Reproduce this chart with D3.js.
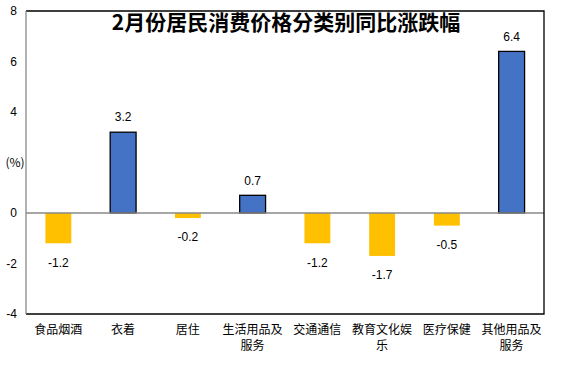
<!DOCTYPE html>
<html><head><meta charset="utf-8">
<script src="https://cdn.jsdelivr.net/npm/d3@7"></script>
<style>body{margin:0;background:#fff}svg{display:block}</style>
</head><body>
<svg id="c" width="574" height="374"></svg>
<script>
const title = "2月份居民消费价格分类别同比涨跌幅";
const categories = ["食品烟酒","衣着","居住","生活用品及服务","交通通信","教育文化娱乐","医疗保健","其他用品及服务"];
const categoryLines = [["食品烟酒"],["衣着"],["居住"],["生活用品及","服务"],["交通通信"],["教育文化娱","乐"],["医疗保健"],["其他用品及","服务"]];
const values = [-1.2, 3.2, -0.2, 0.7, -1.2, -1.7, -0.5, 6.4];
const valueLabels = ["-1.2","3.2","-0.2","0.7","-1.2","-1.7","-0.5","6.4"];
const yTicks = [-4,-2,0,2,4,6,8];
const yTickLabels = ["-4","-2","0","","4","6","8"];
const unitLabel = "(%)";

const svg = d3.select("#c");
const L = 26, R = 544, T = 11, B = 314;
const x = d3.scaleBand().domain(categories).range([L, R]).paddingInner(0.6).paddingOuter(0.3);
const y = d3.scaleLinear().domain([-4, 8]).range([B, T]);

const cjk = "'Noto Sans CJK SC', sans-serif";
const lat = "'Liberation Sans', Arial, sans-serif";

// bars
svg.selectAll("rect.bar").data(values).join("rect")
  .attr("x", (d,i) => x(categories[i]))
  .attr("width", x.bandwidth())
  .attr("y", d => d >= 0 ? y(d) : y(0))
  .attr("height", d => Math.abs(y(d) - y(0)))
  .attr("fill", d => d >= 0 ? "#4472C4" : "#FFC000")
  .attr("stroke", d => d >= 0 ? "#000" : "none")
  .attr("stroke-width", 1.3);

// zero line
svg.append("line").attr("x1", L).attr("x2", R).attr("y1", y(0)).attr("y2", y(0))
  .attr("stroke", "#888").attr("stroke-width", 1.3);

// frame
svg.append("path").attr("d", `M${L},${T}H${R}V${B}H${L}`).attr("fill","none").attr("stroke","#000").attr("stroke-width",1.3);
svg.append("line").attr("x1", L).attr("x2", L).attr("y1", T).attr("y2", B).attr("stroke","#888").attr("stroke-width",1.3);

// y tick labels
svg.selectAll("text.yt").data(yTicks).join("text")
  .attr("x", 17).attr("y", d => y(d)).attr("dy", "0.35em")
  .attr("text-anchor", "end").attr("font-family", lat).attr("font-size", 12)
  .text((d,i) => yTickLabels[i]);
svg.append("text").attr("x", 15).attr("y", y(2)).attr("dy","0.35em")
  .attr("text-anchor","middle").attr("font-family", cjk).attr("font-size", 12).text(unitLabel);

// value labels
svg.selectAll("text.vl").data(values).join("text")
  .attr("x", (d,i) => x(categories[i]) + x.bandwidth()/2)
  .attr("y", d => d >= 0 ? y(d) - 15 : y(d) + 19)
  .attr("dy", "0.35em").attr("text-anchor", "middle")
  .attr("font-family", lat).attr("font-size", 12)
  .text((d,i) => valueLabels[i]);

// category labels
categoryLines.forEach((lines, i) => {
  const t = svg.append("text").attr("text-anchor","middle").attr("font-family", cjk).attr("font-size", 12)
    .attr("x", x(categories[i]) + x.bandwidth()/2);
  lines.forEach((ln, j) => t.append("tspan").attr("x", x(categories[i]) + x.bandwidth()/2).attr("y", 330 + j*16).attr("dy","0.35em").text(ln));
});

// title
svg.append("text").attr("x", 286).attr("y", 23).attr("dy","0.35em").attr("text-anchor","middle")
  .attr("font-family", cjk).attr("font-weight","bold").attr("font-size", 21).text(title);
</script>
</body></html>
